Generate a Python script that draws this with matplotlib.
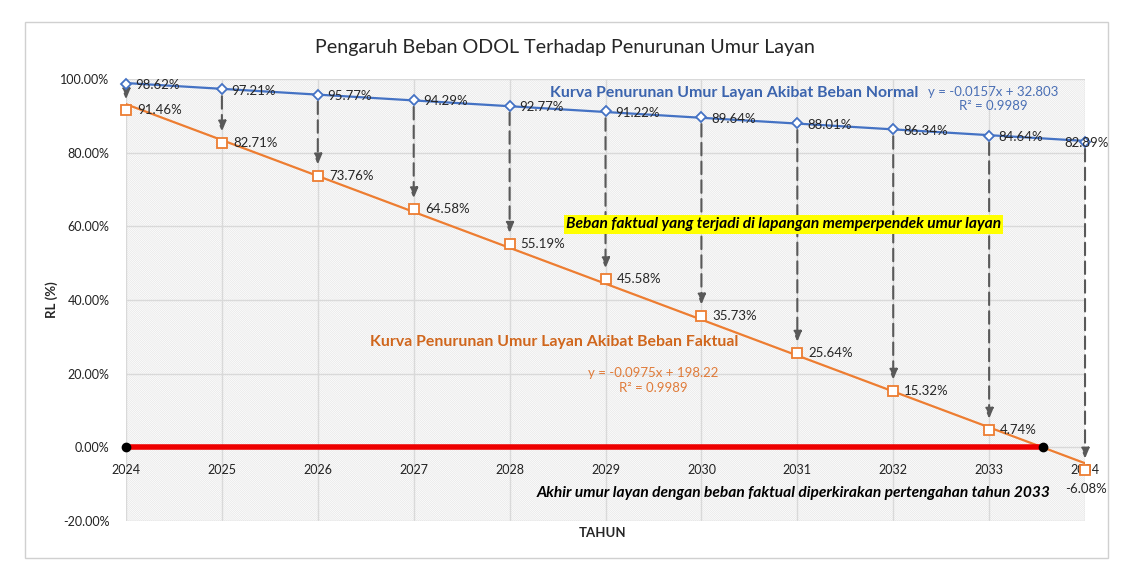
import numpy as np
import matplotlib
matplotlib.use('Agg')
import matplotlib.pyplot as plt
from matplotlib.patches import Rectangle, FancyArrowPatch
from matplotlib.ticker import FuncFormatter

# ---------------- data ----------------
years = [2024, 2025, 2026, 2027, 2028, 2029, 2030, 2031, 2032, 2033, 2034]
rl_normal = [98.62, 97.21, 95.77, 94.29, 92.77, 91.22, 89.64, 88.01, 86.34, 84.64, 82.89]
rl_faktual = [91.46, 82.71, 73.76, 64.58, 55.19, 45.58, 35.73, 25.64, 15.32, 4.74, -6.08]
y_ticks = [-20, 0, 20, 40, 60, 80, 100]

title = "Pengaruh Beban ODOL Terhadap Penurunan Umur Layan"
label_normal = "Kurva Penurunan Umur Layan Akibat Beban Normal"
label_faktual = "Kurva Penurunan Umur Layan Akibat Beban Faktual"
eq_normal = "y = -0.0157x + 32.803\nR² = 0.9989"
eq_faktual = "y = -0.0975x + 198.22\nR² = 0.9989"
note_yellow = "Beban faktual yang terjadi di lapangan memperpendek umur layan"
note_bottom = "Akhir umur layan dengan beban faktual diperkirakan pertengahan tahun 2033"
xlabel = "TAHUN"
ylabel = "RL (%)"

# ---------------- style ----------------
BLUE = '#4472C4'
ORANGE = '#ED7D31'
GRID = '#D9D9D9'
plt.rcParams['font.family'] = ['Lato', 'DejaVu Sans']
plt.rcParams['hatch.linewidth'] = 0.5

fig = plt.figure(figsize=(11.3, 5.67), dpi=100)
fig.patches.append(Rectangle((0.0221, 0.0159), 0.958, 0.945, transform=fig.transFigure,
                             facecolor='white', edgecolor='#D0D0D0', lw=1.0, zorder=-10))
ax = fig.add_axes([0.1115, 0.0811, 0.8487, 0.7796])
ax.set_facecolor('white')
ax.add_patch(Rectangle((0, 0), 1, 1, transform=ax.transAxes, facecolor='white',
                       edgecolor='#E6E6E6', hatch='\\' * 16, lw=0, zorder=0))

ax.set_xlim(years[0], years[-1])
ax.set_ylim(y_ticks[0], y_ticks[-1])
ax.set_xticks(years)
ax.set_yticks(y_ticks)
ax.yaxis.set_major_formatter(FuncFormatter(lambda v, p: f"{v:.2f}%"))
ax.grid(True, color=GRID, lw=1.0, zorder=1)
ax.set_axisbelow(True)
for s in ax.spines.values():
    s.set_visible(False)
ax.spines['bottom'].set_position(('data', 0))
ax.tick_params(axis='both', length=0, labelsize=9, colors='#222222')
ax.tick_params(axis='x', pad=12)
ax.tick_params(axis='y', pad=12)

x = np.array(years, dtype=float)
yn = np.array(rl_normal)
yf = np.array(rl_faktual)

# trend lines
pn = np.polyfit(x, yn, 1)
pf = np.polyfit(x, yf, 1)
xx = np.array([years[0], years[-1]], dtype=float)
ax.plot(xx, np.polyval(pn, xx), color=BLUE, lw=1.6, zorder=4)
ax.plot(xx, np.polyval(pf, xx), color=ORANGE, lw=1.6, zorder=4)

# zero crossing of faktual trend -> red line
x0 = -pf[1] / pf[0]
ax.plot([years[0], x0], [0, 0], color='#EE0000', lw=4, zorder=5, solid_capstyle='butt', clip_on=False)
ax.plot([years[0], x0], [0, 0], 'o', color='black', ms=6, zorder=6, clip_on=False)

# arrows
for xi, a, b in zip(years, rl_normal, rl_faktual):
    arr = FancyArrowPatch((xi, a), (xi, b), arrowstyle='-|>,head_length=0.6,head_width=0.25',
                          mutation_scale=10, color='#595959', lw=1.5, linestyle=(0, (6, 3)),
                          shrinkA=5, shrinkB=8, zorder=3, clip_on=False)
    ax.add_patch(arr)

# markers
ax.plot(x, yn, linestyle='none', marker='D', ms=5, mfc='white', mec=BLUE, mew=1.3, zorder=7, clip_on=False)
ax.plot(x, yf, linestyle='none', marker='s', ms=7.5, mfc='white', mec=ORANGE, mew=1.3, zorder=7, clip_on=False)

# data labels
for i, (xi, v) in enumerate(zip(years, rl_normal)):
    if i == len(years) - 1:
        ax.annotate(f"{v:.2f}%", (xi, v), xytext=(1, -1), textcoords='offset points',
                    ha='center', va='center', fontsize=9.5, color='#262626', zorder=8)
    else:
        ax.annotate(f"{v:.2f}%", (xi, v), xytext=(7, -1), textcoords='offset points',
                    ha='left', va='center', fontsize=9.5, color='#262626', zorder=8)
for i, (xi, v) in enumerate(zip(years, rl_faktual)):
    if i == len(years) - 1:
        ax.annotate(f"{v:.2f}%", (xi, v), xytext=(1, -14), textcoords='offset points',
                    ha='center', va='center', fontsize=9.5, color='#262626', zorder=8)
    else:
        ax.annotate(f"{v:.2f}%", (xi, v), xytext=(8, 0), textcoords='offset points',
                    ha='left', va='center', fontsize=9.5, color='#262626', zorder=8)

# annotations
ax.text(2030.34, 96.1, label_normal, ha='center', va='center', fontsize=11.4,
        fontweight='bold', color='#3B64AE', zorder=8)
ax.text(2033.04, 94.5, eq_normal, ha='center', va='center', fontsize=9.5,
        color='#4A6FB5', linespacing=1.25, zorder=8)
ax.text(2028.46, 28.5, label_faktual, ha='center', va='center', fontsize=11.4,
        fontweight='bold', color='#D0661C', zorder=8)
ax.text(2029.50, 18.2, eq_faktual, ha='center', va='center', fontsize=9.5,
        color='#E07B39', linespacing=1.25, zorder=8)
ax.text(2030.86, 60.5, note_yellow, ha='center', va='center', fontsize=11.2,
        fontweight='bold', fontstyle='italic', color='black', zorder=8,
        bbox=dict(facecolor='#FFFF00', edgecolor='none', pad=1.5))
ax.text(2030.96, -12.5, note_bottom, ha='center', va='center', fontsize=11.2,
        fontweight='bold', fontstyle='italic', color='black', zorder=8)

fig.text(0.5, 1 - 47 / 567, title, ha='center', va='center', fontsize=14.2, color='#262626')
fig.text(52 / 1130, 1 - 300 / 567, ylabel, ha='center', va='center', rotation=90,
         fontsize=9.5, fontweight='bold', color='#262626')
fig.text(603 / 1130, 1 - 533 / 567, xlabel, ha='center', va='center',
         fontsize=9.5, fontweight='bold', color='#262626')

fig.savefig('out.png', dpi=100)
